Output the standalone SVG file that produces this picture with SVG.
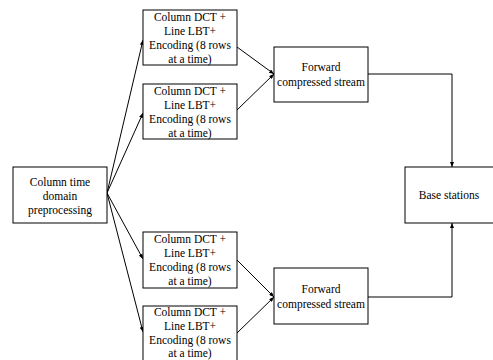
<svg xmlns="http://www.w3.org/2000/svg" width="493" height="360" viewBox="0 0 493 360">
<style>
rect{fill:#fff;stroke:#000;stroke-width:1}
text{font-family:'Liberation Serif','Times New Roman',serif;font-size:11.5px;fill:#000;text-anchor:middle;dominant-baseline:central}
.c{fill:none;stroke:#000;stroke-width:1}
</style>
<defs>
<marker id="a" markerWidth="5" markerHeight="4" refX="5" refY="2" orient="auto" markerUnits="userSpaceOnUse"><path d="M0,0L5,2L0,4z" fill="#000"/></marker>
</defs>
<rect width="493" height="360" style="fill:#fff;stroke:none"/>
<g id="connectors">
<line class="c" x1="107" y1="193" x2="143" y2="40" marker-end="url(#a)"/>
<line class="c" x1="107" y1="193" x2="143" y2="113" marker-end="url(#a)"/>
<line class="c" x1="107" y1="193" x2="143" y2="259" marker-end="url(#a)"/>
<line class="c" x1="107" y1="193" x2="143" y2="332" marker-end="url(#a)"/>
<line class="c" x1="237" y1="47" x2="274" y2="74" marker-end="url(#a)"/>
<line class="c" x1="237" y1="110" x2="274" y2="74" marker-end="url(#a)"/>
<line class="c" x1="237" y1="260" x2="274" y2="297" marker-end="url(#a)"/>
<line class="c" x1="237" y1="333" x2="274" y2="297" marker-end="url(#a)"/>
<path class="c" d="M368,74H452V167" marker-end="url(#a)"/>
<path class="c" d="M368,297H452V223" marker-end="url(#a)"/>
</g>
<g id="pre">
<rect x="13" y="167" width="94" height="56"/>
<text x="60" y="182">Column time</text>
<text x="60" y="196">domain</text>
<text x="60" y="210">preprocessing</text>
</g>
<g id="dct1">
<rect x="143" y="10" width="94" height="55"/>
<text x="190" y="17">Column DCT +</text>
<text x="190" y="31">Line LBT+</text>
<text x="190" y="45">Encoding (8 rows</text>
<text x="190" y="59">at a time)</text>
</g>
<g id="dct2">
<rect x="143" y="84" width="94" height="55"/>
<text x="190" y="91">Column DCT +</text>
<text x="190" y="105">Line LBT+</text>
<text x="190" y="119">Encoding (8 rows</text>
<text x="190" y="133">at a time)</text>
</g>
<g id="dct3">
<rect x="143" y="232" width="94" height="56"/>
<text x="190" y="239">Column DCT +</text>
<text x="190" y="253">Line LBT+</text>
<text x="190" y="267">Encoding (8 rows</text>
<text x="190" y="281">at a time)</text>
</g>
<g id="dct4">
<rect x="143" y="306" width="94" height="55"/>
<text x="190" y="312">Column DCT +</text>
<text x="190" y="326">Line LBT+</text>
<text x="190" y="340">Encoding (8 rows</text>
<text x="190" y="353">at a time)</text>
</g>
<g id="fwd1">
<rect x="274" y="47" width="94" height="55"/>
<text x="321" y="67">Forward</text>
<text x="321" y="82">compressed stream</text>
</g>
<g id="fwd2">
<rect x="274" y="268" width="94" height="56"/>
<text x="321" y="289">Forward</text>
<text x="321" y="304">compressed stream</text>
</g>
<g id="base">
<rect x="405" y="167" width="95" height="56"/>
<text x="449" y="195">Base stations</text>
</g>
</svg>
